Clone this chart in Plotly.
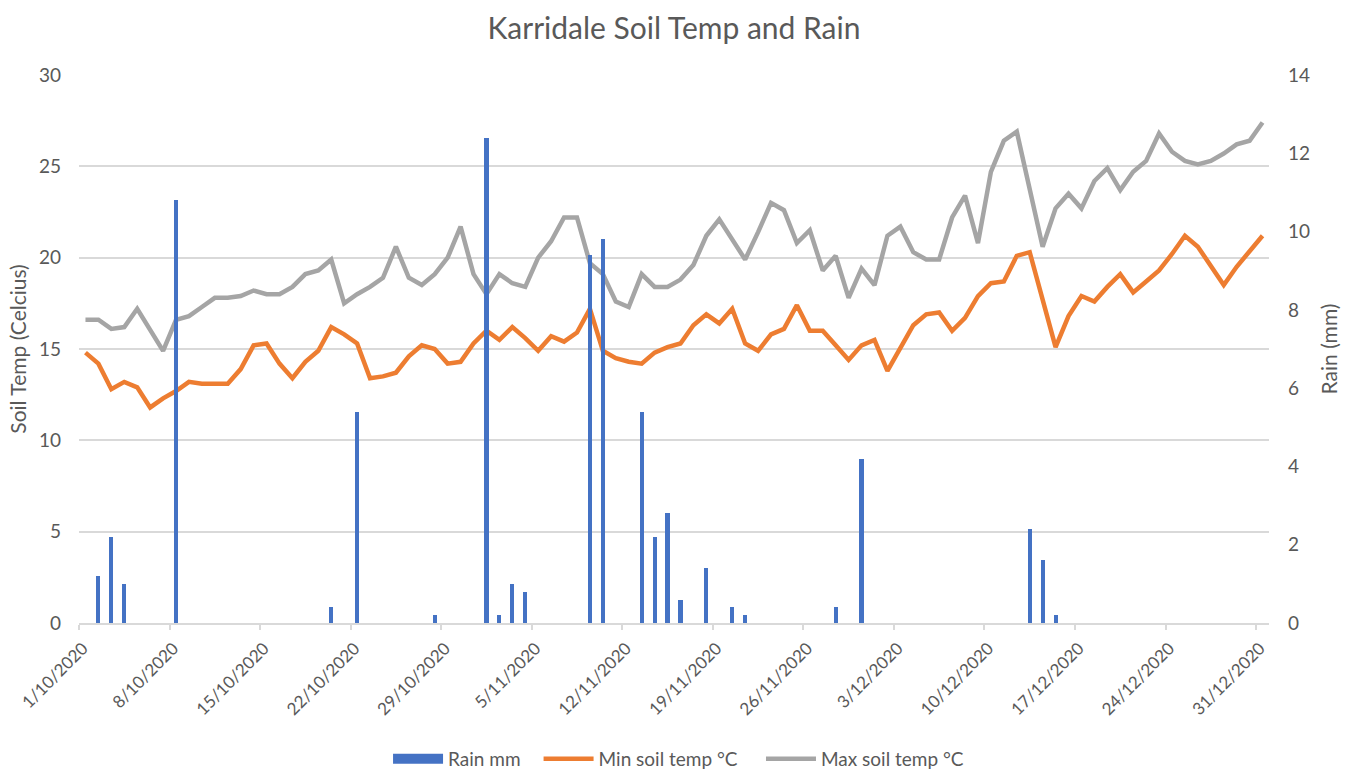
import pandas as pd
import plotly.graph_objects as go

start_date = "2020-10-01"
n_days = 92
dates = pd.date_range(start_date, periods=n_days, freq="D")

max_soil_temp = [
    16.6, 16.6, 16.1, 16.2, 17.2, 16.0, 14.9, 16.6, 16.8, 17.3,
    17.8, 17.8, 17.9, 18.2, 18.0, 18.0, 18.4, 19.1, 19.3, 19.9,
    17.5, 18.0, 18.4, 18.9, 20.6, 18.9, 18.5, 19.1, 20.0, 21.7,
    19.1, 18.0, 19.1, 18.6, 18.4, 20.0, 20.9, 22.2, 22.2, 19.7,
    19.1, 17.6, 17.3, 19.1, 18.4, 18.4, 18.8, 19.6, 21.2, 22.1,
    21.0, 19.9, 21.4, 23.0, 22.6, 20.8, 21.5, 19.3, 20.1, 17.8,
    19.4, 18.5, 21.2, 21.7, 20.3, 19.9, 19.9, 22.2, 23.4, 20.8,
    24.7, 26.4, 26.9, 23.7, 20.6, 22.7, 23.5, 22.7, 24.2, 24.9,
    23.7, 24.7, 25.3, 26.8, 25.8, 25.3, 25.1, 25.3, 25.7, 26.2,
    26.4, 27.4,
]

min_soil_temp = [
    14.8, 14.2, 12.8, 13.2, 12.9, 11.8, 12.3, 12.7, 13.2, 13.1,
    13.1, 13.1, 13.9, 15.2, 15.3, 14.2, 13.4, 14.3, 14.9, 16.2,
    15.8, 15.3, 13.4, 13.5, 13.7, 14.6, 15.2, 15.0, 14.2, 14.3,
    15.3, 16.0, 15.5, 16.2, 15.6, 14.9, 15.7, 15.4, 15.9, 17.2,
    14.9, 14.5, 14.3, 14.2, 14.8, 15.1, 15.3, 16.3, 16.9, 16.4,
    17.2, 15.3, 14.9, 15.8, 16.1, 17.4, 16.0, 16.0, 15.2, 14.4,
    15.2, 15.5, 13.8, 15.1, 16.3, 16.9, 17.0, 16.0, 16.7, 17.9,
    18.6, 18.7, 20.1, 20.3, 17.7, 15.1, 16.8, 17.9, 17.6, 18.4,
    19.1, 18.1, 18.7, 19.3, 20.2, 21.2, 20.6, 19.6, 18.5, 19.5,
    20.4, 21.2,
]

rain_dates = [
    "2020-10-02", "2020-10-03", "2020-10-04", "2020-10-08", "2020-10-20",
    "2020-10-22", "2020-10-28", "2020-11-01", "2020-11-02", "2020-11-03",
    "2020-11-04", "2020-11-09", "2020-11-10", "2020-11-13", "2020-11-14",
    "2020-11-15", "2020-11-16", "2020-11-18", "2020-11-20", "2020-11-21",
    "2020-11-28", "2020-11-30", "2020-12-13", "2020-12-14", "2020-12-15",
]
rain_mm = [
    1.2, 2.2, 1.0, 10.8, 0.4,
    5.4, 0.2, 12.4, 0.2, 1.0,
    0.8, 9.4, 9.8, 5.4, 2.2,
    2.8, 0.6, 1.4, 0.4, 0.2,
    0.4, 4.2, 2.4, 1.6, 0.2,
]

DAY_MS = 86400000
FONT = "Lato, 'Open Sans', sans-serif"
TXT = "#595959"
GRID = "#d9d9d9"
BLUE = "#4472C4"

fig = go.Figure()

# legend-only entry for the rain bars (wide block symbol)
fig.add_trace(go.Scatter(
    x=[None], y=[None], name="Rain mm", mode="lines",
    line=dict(color=BLUE, width=13), yaxis="y2", hoverinfo="skip",
    legend="legend",
))
fig.add_trace(go.Scatter(
    x=dates, y=min_soil_temp, name="Min soil temp °C", mode="lines",
    line=dict(color="#ED7D31", width=4.5),
    xperiod=DAY_MS, xperiodalignment="middle", yaxis="y",
    legend="legend2",
))
fig.add_trace(go.Scatter(
    x=dates, y=max_soil_temp, name="Max soil temp °C", mode="lines",
    line=dict(color="#A5A5A5", width=4.5),
    xperiod=DAY_MS, xperiodalignment="middle", yaxis="y",
    legend="legend3",
))
fig.add_trace(go.Bar(
    x=pd.to_datetime(rain_dates), y=rain_mm, name="Rain mm",
    marker=dict(color=BLUE, line=dict(width=0)),
    width=0.32 * DAY_MS, showlegend=False,
    xperiod=DAY_MS, xperiodalignment="middle", yaxis="y2",
))

legend_style = dict(orientation="h", xanchor="left", y=-0.248, yanchor="middle",
                    font=dict(size=19, color=TXT), itemwidth=50,
                    bgcolor="rgba(0,0,0,0)")

fig.update_layout(
    width=1357, height=770,
    margin=dict(l=79, r=88, t=75, b=147, autoexpand=False),
    paper_bgcolor="white", plot_bgcolor="white",
    font=dict(family=FONT, color=TXT, size=19),
    title=dict(text="Karridale Soil Temp and Rain", x=0.5, xanchor="center",
               xref="paper", y=0.9636, yanchor="middle",
               font=dict(size=30, color=TXT)),
    showlegend=True,
    legend=dict(x=0.2597, **legend_style),
    legend2=dict(x=0.3862, **legend_style),
    legend3=dict(x=0.5731, **legend_style),
    xaxis=dict(
        type="date", automargin=False,
        range=["2020-10-01", "2021-01-01"],
        tick0=start_date, dtick=7 * DAY_MS,
        tickformat="%-d/%-m/%Y", tickangle=-45,
        showgrid=False, showline=True, linecolor=GRID, linewidth=1.5,
        ticks="outside", ticklen=5, tickcolor=GRID, tickwidth=1.5,
        tickfont=dict(size=17, color=TXT), zeroline=False,
        ticklabelstandoff=2, ticklabelshift=4,
    ),
    yaxis=dict(
        range=[0, 30], dtick=5, showgrid=True, gridcolor=GRID, gridwidth=1.5,
        zeroline=False, showline=False, automargin=False,
        title=dict(text="Soil Temp (Celcius)", font=dict(size=21, color=TXT), standoff=6),
        tickfont=dict(size=19, color=TXT), ticklabelstandoff=17,
    ),
    yaxis2=dict(
        range=[0, 14], dtick=2, overlaying="y", side="right", showgrid=False,
        zeroline=False, showline=False, automargin=False,
        title=dict(text="Rain (mm)", font=dict(size=21, color=TXT), standoff=13),
        tickfont=dict(size=19, color=TXT), ticklabelstandoff=18,
    ),
    bargap=0,
)

fig.write_html("out.html", config={"displayModeBar": False},
               post_script="document.body.style.margin='0';")
